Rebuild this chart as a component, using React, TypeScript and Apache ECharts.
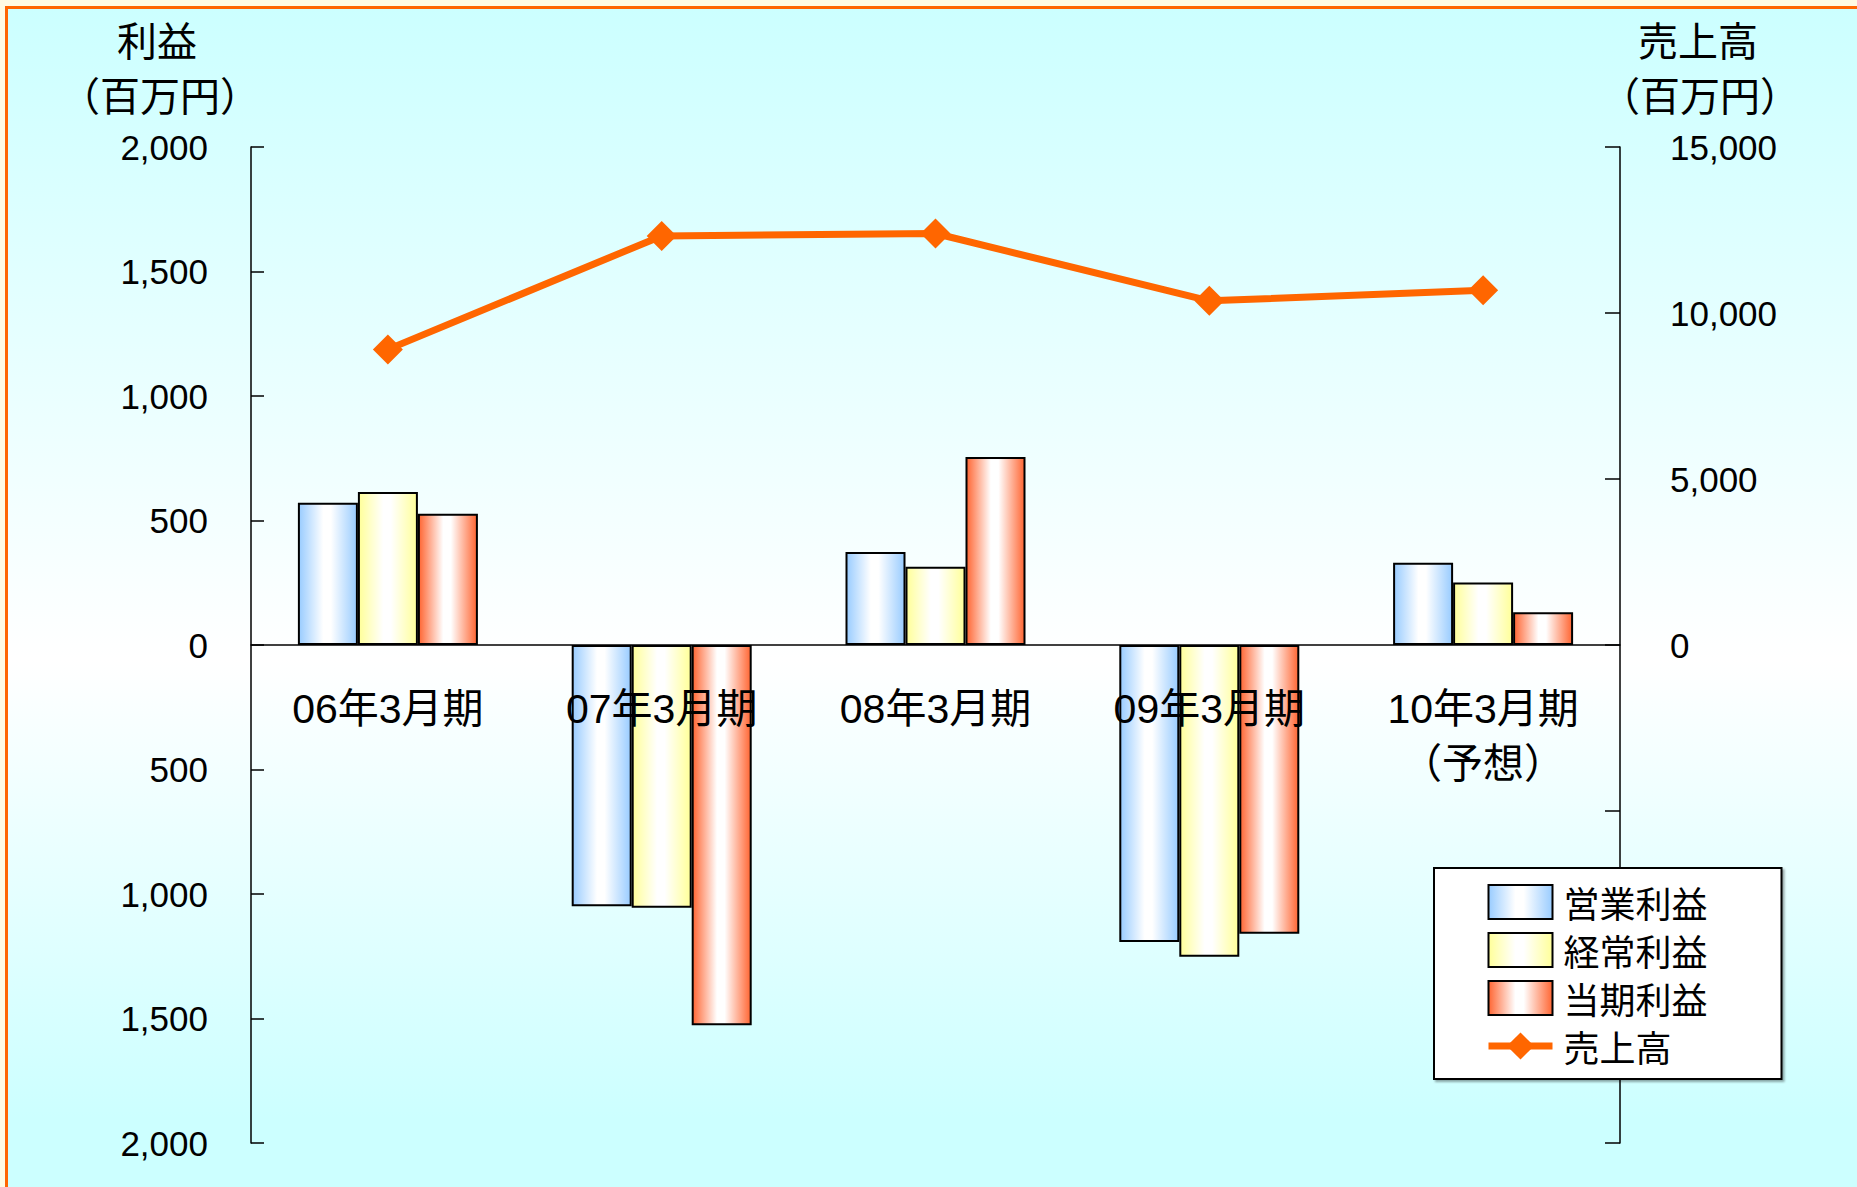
import React, { useEffect, useRef } from "react";
import * as echarts from "echarts";

const categories = ["06年3月期", "07年3月期", "08年3月期", "09年3月期", "10年3月期\n（予想）"];
const operatingProfit = [571, -1049, 373, -1193, 330];
const ordinaryProfit = [614, -1055, 314, -1252, 251];
const netProfit = [527, -1527, 755, -1160, 132];
const sales = [8904, 12322, 12394, 10366, 10688];

const seriesNames = ["営業利益", "経常利益", "当期利益", "売上高"];
const barColors = ["#99ccff", "#ffff99", "#ff6633"];
const lineColor = "#ff6600";

const FONT = "'Liberation Sans', 'Noto Sans CJK JP', sans-serif";
const CJK = "'Noto Sans CJK JP', 'Liberation Sans', sans-serif";

const W = 1857;
const H = 1187;
const GRID = { left: 251, right: 237, top: 147, bottom: 44 };

function barGradient(c: string) {
  return {
    type: "linear",
    x: 0,
    y: 0,
    x2: 1,
    y2: 0,
    colorStops: [
      { offset: 0, color: c },
      { offset: 0.42, color: "#ffffff" },
      { offset: 0.55, color: "#ffffff" },
      { offset: 1, color: c },
    ],
  };
}

function fmt(v: number) {
  return Math.abs(v).toLocaleString("en-US");
}

export default function App() {
  const ref = useRef<HTMLDivElement>(null);
  useEffect(() => {
    if (!ref.current) return;
    const chart = echarts.init(ref.current, null, { renderer: "svg" });
    const barData = [operatingProfit, ordinaryProfit, netProfit];
    // the symmetric left axis puts zero at the middle of the plot
    const zeroOffset = -(H - GRID.top - GRID.bottom) / 2;
    chart.setOption({
      animation: false,
      textStyle: { fontFamily: FONT },
      grid: { ...GRID, containLabel: false, outerBoundsMode: "none" },
      legend: {
        orient: "vertical",
        left: 1434,
        top: 868,
        padding: [16, 74, 15, 51],
        itemWidth: 64,
        itemHeight: 34,
        itemGap: 12,
        backgroundColor: "#ffffff",
        borderColor: "#000000",
        borderWidth: 2,
        shadowColor: "rgba(0,0,0,0.35)",
        shadowBlur: 2,
        shadowOffsetX: 2,
        shadowOffsetY: 2,
        textStyle: { fontSize: 36, fontFamily: CJK, color: "#000", padding: [0, 0, 0, 6] },
        lineStyle: { width: 7 },
        data: [
          { name: seriesNames[0], icon: "rect" },
          { name: seriesNames[1], icon: "rect" },
          { name: seriesNames[2], icon: "rect" },
          { name: seriesNames[3] },
        ],
      },
      graphic: [
        { type: "text", x: 157, y: 39, style: { text: "利益", fontSize: 40, fontFamily: CJK, fill: "#000", align: "center", verticalAlign: "middle" } },
        { type: "text", x: 160, y: 94, style: { text: "（百万円）", fontSize: 40, fontFamily: CJK, fill: "#000", align: "center", verticalAlign: "middle" } },
        { type: "text", x: 1698, y: 39, style: { text: "売上高", fontSize: 40, fontFamily: CJK, fill: "#000", align: "center", verticalAlign: "middle" } },
        { type: "text", x: 1700, y: 94, style: { text: "（百万円）", fontSize: 40, fontFamily: CJK, fill: "#000", align: "center", verticalAlign: "middle" } },
      ],
      xAxis: {
        type: "category",
        data: categories,
        z: 5,
        position: "bottom",
        offset: zeroOffset,
        axisLine: { onZero: false, lineStyle: { color: "#000", width: 1.5 } },
        axisTick: { inside: true, length: 12, lineStyle: { color: "#000", width: 1.5 } },
        axisLabel: { fontSize: 41, fontFamily: FONT, color: "#000", lineHeight: 55, margin: 36, interval: 0 },
        splitLine: { show: false },
      },
      yAxis: [
        {
          type: "value",
          min: -2000,
          max: 2000,
          interval: 500,
          axisLine: { show: true, lineStyle: { color: "#000", width: 1.5 } },
          axisTick: { show: true, inside: true, length: 13, lineStyle: { color: "#000", width: 1.5 } },
          axisLabel: { fontSize: 35, fontFamily: FONT, color: "#000", margin: 43, formatter: (v: number) => fmt(v) },
          splitLine: { show: false },
        },
        {
          type: "value",
          min: -15000,
          max: 15000,
          interval: 5000,
          position: "right",
          axisLine: { show: true, lineStyle: { color: "#000", width: 1.5 } },
          axisTick: { show: true, inside: true, length: 15, lineStyle: { color: "#000", width: 1.5 } },
          axisLabel: { fontSize: 35, fontFamily: FONT, color: "#000", margin: 50, formatter: (v: number) => (v >= 0 ? fmt(v) : "") },
          splitLine: { show: false },
        },
      ],
      series: [
        ...barData.map((d, i) => ({
          name: seriesNames[i],
          type: "bar",
          data: d,
          barWidth: 60,
          barGap: "0%",
          itemStyle: { color: barGradient(barColors[i]), borderColor: "#000", borderWidth: 2 },
        })),
        {
          name: seriesNames[3],
          type: "line",
          yAxisIndex: 1,
          data: sales,
          symbol: "diamond",
          symbolSize: 30,
          z: 6,
          lineStyle: { color: lineColor, width: 7 },
          itemStyle: { color: lineColor, borderWidth: 0 },
        },
      ],
    });
    return () => chart.dispose();
  }, []);

  return (
    <div style={{ position: "fixed", left: 0, top: 0, width: W, height: H, background: "#fffbe3", overflow: "hidden" }}>
      <div
        style={{
          position: "absolute",
          left: 5,
          top: 6,
          width: 1900,
          height: 1250,
          boxSizing: "border-box",
          borderTop: "3px solid #ff6600",
          borderLeft: "3px solid #ff6600",
          background: "linear-gradient(to bottom, #ccffff 0px, #ffffff 650px, #ccffff 1110px, #ccffff 1250px)",
        }}
      />
      <div ref={ref} style={{ position: "absolute", left: 0, top: 0, width: W, height: H }} />
    </div>
  );
}
